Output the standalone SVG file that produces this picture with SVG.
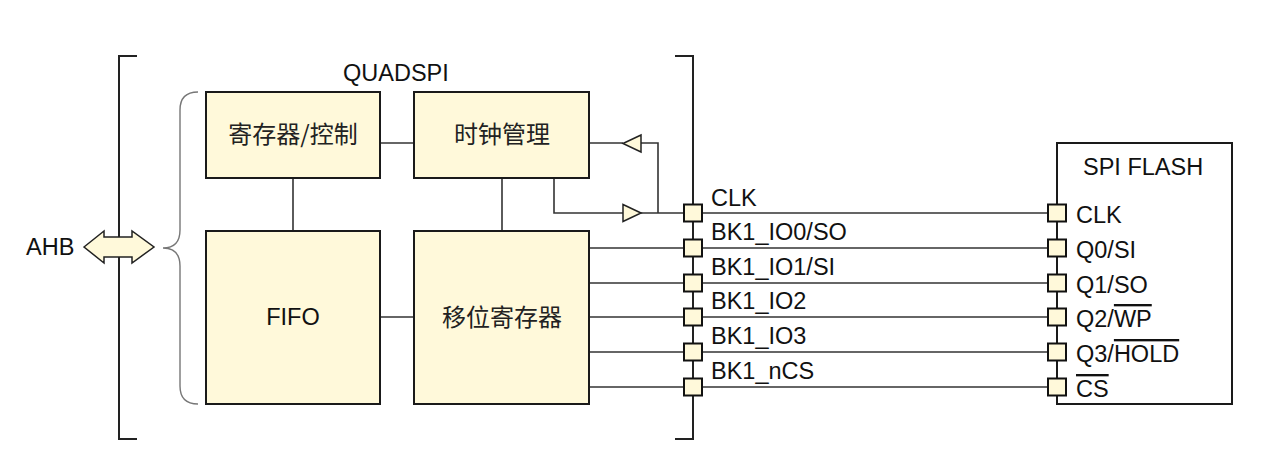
<svg xmlns="http://www.w3.org/2000/svg" width="1268" height="474" viewBox="0 0 1268 474">
<style>
.box{fill:#FFF9DA;stroke:#1a1a1a;stroke-width:2}
.pad{fill:#FFF9DA;stroke:#111;stroke-width:2}
.ln{fill:none;stroke:#333;stroke-width:1.6}
.br{fill:none;stroke:#222;stroke-width:2}
.brace{fill:none;stroke:#777;stroke-width:1.4}
.t{font-family:"Liberation Sans",Arial,sans-serif;font-size:23.5px;fill:#111}
.c{font-family:"Noto Sans CJK SC",sans-serif;font-size:24px;fill:#222;text-anchor:middle}
.m{text-anchor:middle}
.tri{fill:#FFF9DA;stroke:#222;stroke-width:1.5}
</style>
<rect width="1268" height="474" fill="#fff"/>
<g id="brackets">
<path class="br" d="M137,56 H119 V439 H137"/>
<path class="br" d="M675,56 H693 V439 H675"/>
<path class="brace" d="M198,92 Q180,92 180,110 V230 Q180,248 163,248 Q180,248 180,266 V386 Q180,404 198,404"/>
</g>
<text class="t" x="343" y="81">QUADSPI</text>
<g id="ahb">
<text class="t" x="26" y="255">AHB</text>
<path d="M84,247 L104,231 V237 H132 V231 L154,247 L132,263 V257 H104 V263 Z" fill="#FFF9DA" stroke="#222" stroke-width="1.5"/>
</g>
<g id="connectors">
<line class="ln" x1="380" y1="143" x2="414" y2="143"/>
<line class="ln" x1="293" y1="178" x2="293" y2="231"/>
<line class="ln" x1="502" y1="178" x2="502" y2="231"/>
<line class="ln" x1="380" y1="317" x2="414" y2="317"/>
<path class="ln" d="M589,143 H623 M641,143 H658 V213"/>
<path class="ln" d="M554,178 V213 H623 M641,213 H1057"/>
<line class="ln" x1="589" y1="248" x2="1057" y2="248"/>
<line class="ln" x1="589" y1="283" x2="1057" y2="283"/>
<line class="ln" x1="589" y1="317" x2="1057" y2="317"/>
<line class="ln" x1="589" y1="352" x2="1057" y2="352"/>
<line class="ln" x1="589" y1="387" x2="1057" y2="387"/>
<path class="tri" d="M623,143.5 L641,135 V152 Z"/>
<path class="tri" d="M641,213 L623,204.5 V221.5 Z"/>
</g>
<g id="reg">
<rect class="box" x="206" y="92" width="174" height="86"/>
<text class="c" x="293" y="143">寄存器/控制</text>
</g>
<g id="clock">
<rect class="box" x="414" y="92" width="175" height="86"/>
<text class="c" x="502" y="143">时钟管理</text>
</g>
<g id="fifo">
<rect class="box" x="206" y="231" width="174" height="173"/>
<text class="t m" x="293" y="325">FIFO</text>
</g>
<g id="shift">
<rect class="box" x="414" y="231" width="175" height="173"/>
<text class="c" x="502" y="326">移位寄存器</text>
</g>
<g id="quadspi-pins">
<rect class="pad" x="684" y="204.5" width="18" height="17"/>
<rect class="pad" x="684" y="239.5" width="18" height="17"/>
<rect class="pad" x="684" y="274.5" width="18" height="17"/>
<rect class="pad" x="684" y="308.5" width="18" height="17"/>
<rect class="pad" x="684" y="343.5" width="18" height="17"/>
<rect class="pad" x="684" y="378.5" width="18" height="17"/>
<text class="t" x="711" y="206">CLK</text>
<text class="t" x="711" y="240">BK1_IO0/SO</text>
<text class="t" x="711" y="275">BK1_IO1/SI</text>
<text class="t" x="711" y="309">BK1_IO2</text>
<text class="t" x="711" y="344">BK1_IO3</text>
<text class="t" x="711" y="379">BK1_nCS</text>
</g>
<g id="flash">
<rect x="1057" y="143" width="175" height="261" fill="#fff" stroke="#1a1a1a" stroke-width="2"/>
<text class="t" x="1083" y="175">SPI FLASH</text>
<rect class="pad" x="1048" y="204.5" width="18" height="17"/>
<rect class="pad" x="1048" y="239.5" width="18" height="17"/>
<rect class="pad" x="1048" y="274.5" width="18" height="17"/>
<rect class="pad" x="1048" y="308.5" width="18" height="17"/>
<rect class="pad" x="1048" y="343.5" width="18" height="17"/>
<rect class="pad" x="1048" y="378.5" width="18" height="17"/>
<text class="t" x="1076" y="223">CLK</text>
<text class="t" x="1076" y="258">Q0/SI</text>
<text class="t" x="1076" y="293">Q1/SO</text>
<text class="t" x="1076" y="327">Q2/<tspan text-decoration="overline">WP</tspan></text>
<text class="t" x="1076" y="362">Q3/<tspan text-decoration="overline">HOLD</tspan></text>
<text class="t" x="1076" y="397"><tspan text-decoration="overline">CS</tspan></text>
</g>
</svg>
